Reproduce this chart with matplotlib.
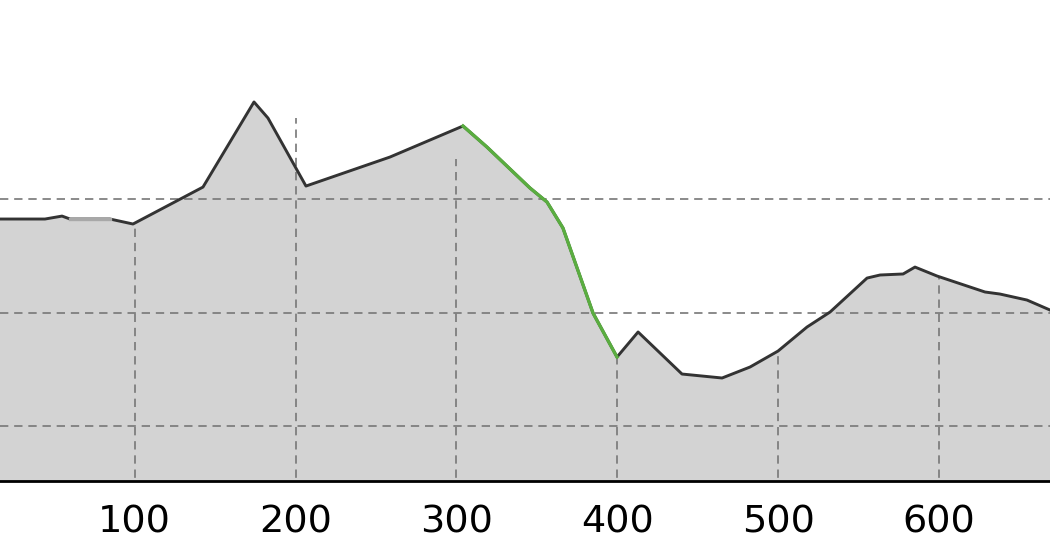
import matplotlib
matplotlib.use("Agg")
import matplotlib.pyplot as plt
import numpy as np

# Elevation profile (distance, elevation)
distance = [0.0, 16.3, 44.3, 54.9, 59.9, 84.7, 99.0, 142.5, 174.2, 182.9, 206.5,
            258.7, 304.1, 319.0, 345.7, 356.3, 366.2, 384.9, 399.8, 412.9,
            440.2, 465.1, 482.5, 499.9, 517.9, 532.2, 555.2, 563.3, 577.6,
            585.0, 598.7, 628.5, 637.8, 654.6, 668.9, 680.0]
elevation = [282.7, 282.7, 282.7, 285.3, 282.7, 282.7, 278.3, 310.9, 386.0, 371.8, 311.8,
             337.4, 364.8, 346.2, 310.1, 297.7, 274.8, 199.7, 160.9, 183.0,
             145.9, 142.4, 152.1, 166.2, 187.4, 200.6, 230.6, 233.3, 234.2,
             240.3, 232.4, 218.3, 216.5, 211.2, 202.4, 195.0]

green_range = (304.1, 399.8)
gray_range = (59.9, 84.7)

xticks = [100, 200, 300, 400, 500, 600]
ygrid = [100, 200, 300]
vgrid_tops = [278.3, 371.8, 335.6, 160.9, 166.2, 232.4]

plt.rcParams['lines.scale_dashes'] = False

fig = plt.figure(figsize=(10.5, 5.6), dpi=100)
ax = fig.add_axes([0, 79 / 560, 1, 481 / 560])

d = np.array(distance)
e = np.array(elevation)
ymin = 51.5
ax.fill_between(d, ymin - 10, e, color='#d3d3d3', lw=0, zorder=1)

dash = (0, (6.0, 4.2))
for y in ygrid:
    ax.axhline(y, color='#777777', lw=1.2, linestyle=dash, zorder=2)
for x, top in zip(xticks, vgrid_tops):
    ax.plot([x, x], [ymin - 10, top], color='#777777', lw=1.2, linestyle=dash, zorder=2)

ax.plot(d, e, color='#333333', lw=2.1, zorder=3, solid_joinstyle='round')
m = (d >= green_range[0]) & (d <= green_range[1])
ax.plot(d[m], e[m], color='#5aad40', lw=2.4, zorder=4, solid_joinstyle='round')
m = (d >= gray_range[0]) & (d <= gray_range[1])
ax.plot(d[m], e[m], color='#a8a8a8', lw=2.4, zorder=4, solid_joinstyle='round')

ax.set_xlim(16.35, 668.9)
ax.set_ylim(ymin, 476)
ax.set_xticks(xticks)
ax.set_yticks([])
ax.tick_params(axis='x', length=0, pad=17, labelsize=27.5, labelcolor='black')
for s in ['top', 'left', 'right']:
    ax.spines[s].set_visible(False)
ax.spines['bottom'].set_color('black')
ax.spines['bottom'].set_linewidth(2.0)
ax.spines['bottom'].set_zorder(5)
ax.set_facecolor('white')

fig.savefig('out.png', dpi=100)
